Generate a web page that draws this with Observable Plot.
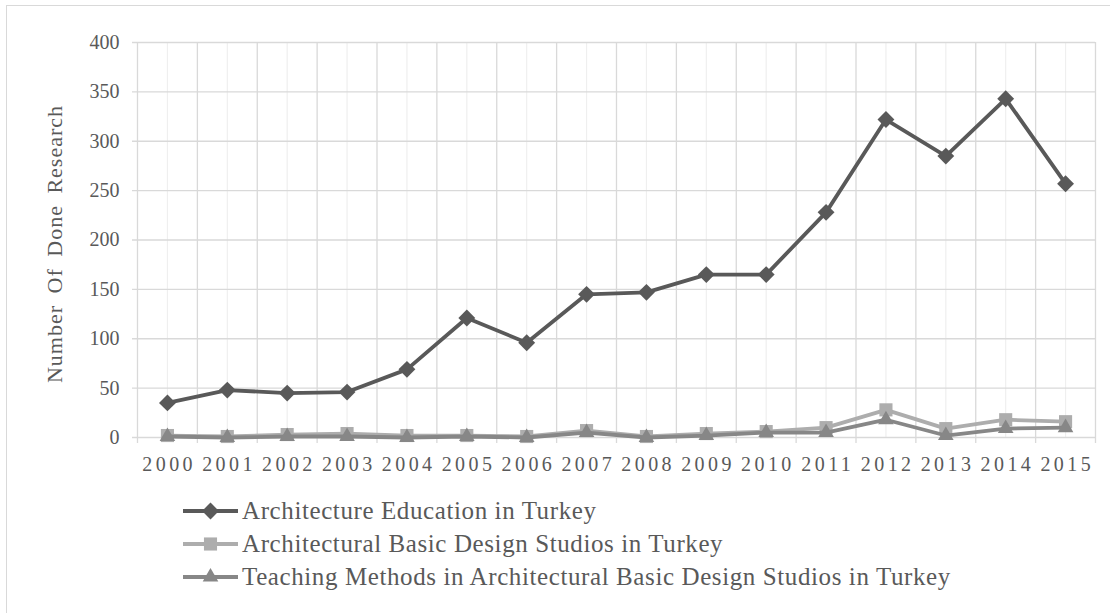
<!DOCTYPE html>
<html>
<head>
<meta charset="utf-8">
<script src="https://cdn.jsdelivr.net/npm/d3@7"></script>
<script src="https://cdn.jsdelivr.net/npm/@observablehq/plot@0.6"></script>
<style>
  html, body { margin: 0; padding: 0; background: #fff; }
  body { width: 1110px; height: 613px; position: relative; overflow: hidden; font-family: "Liberation Serif", "Times New Roman", serif; }
  #frame { position: absolute; left: 6px; top: 5px; width: 1120px; height: 640px; border: 1.5px solid #d9d9d9; box-sizing: border-box; }
  #chart { position: absolute; left: 0; top: 0; }
  #chart svg { font-family: "Liberation Serif", "Times New Roman", serif; }
  #chart g[aria-label="x-axis tick label"] text { letter-spacing: 3.4px; }
  .ylab text { letter-spacing: 1px; word-spacing: 5px; }
  #legend { position: absolute; left: 183px; top: 494px; color: #595959; font-size: 25px; letter-spacing: 0.6px; }
  .row { display: flex; align-items: center; height: 33px; }
  .row svg { width: 56px; height: 22px; margin-right: 3px; flex: none; }
  .row span { white-space: nowrap; }
</style>
</head>
<body>
<div id="frame"></div>
<div id="chart"></div>
<div id="legend"></div>
<script>
const years = [2000,2001,2002,2003,2004,2005,2006,2007,2008,2009,2010,2011,2012,2013,2014,2015];
const seriesNames = [
  "Architecture Education in Turkey",
  "Architectural Basic Design Studios in Turkey",
  "Teaching Methods in Architectural Basic Design Studios in Turkey"
];
const archEducation = [35,48,45,46,69,121,96,145,147,165,165,228,322,285,343,257];
const basicDesignStudios = [2,1,3,4,2,2,1,7,1,4,6,10,28,9,18,16];
const teachingMethods = [1,0,1,1,0,1,0,5,0,2,5,5,18,2,9,10];
const yTicks = [0,50,100,150,200,250,300,350,400];
const yLabel = "Number Of Done Research";

const seriesValues = [archEducation, basicDesignStudios, teachingMethods];
const colors = ["#595959", "#ADADAD", "#878787"];
const symbols = ["diamond2", "square", "triangle"];
const radii = [7.6, 7.4, 5.8];
const d3Symbols = [d3.symbolDiamond2, d3.symbolSquare, d3.symbolTriangle];

const data = seriesNames.flatMap((s, i) => years.map((yr, j) => ({series: s, year: yr, value: seriesValues[i][j]})));
const edges = years.map(y => y - 0.5).concat([years[years.length - 1] + 0.5]);

const marks = [
  Plot.ruleX(years, {stroke: "#EFEFEF", strokeWidth: 1.2}),
  Plot.ruleY(yTicks, {stroke: "#D9D9D9", strokeWidth: 1.3, insetLeft: -5}),
  Plot.ruleX(edges, {stroke: "#D9D9D9", strokeWidth: 1.3, insetBottom: -6}),
  Plot.axisY(yTicks, {tickSize: 0, tickPadding: 18, fontSize: 20, color: "#595959", label: null}),
  Plot.axisX(years, {tickSize: 0, tickPadding: 19, fontSize: 20, color: "#595959", label: null, tickFormat: d => String(d), dx: 1.7}),
  Plot.text([yLabel], {frameAnchor: "left", textAnchor: "middle", rotate: -90, dx: -83, dy: 4, fontSize: 22, fill: "#595959", className: "ylab"})
];
seriesNames.forEach((s, i) => {
  const sub = data.filter(d => d.series === s);
  marks.push(Plot.line(sub, {x: "year", y: "value", stroke: colors[i], strokeWidth: 3.8, strokeLinejoin: "round"}));
  marks.push(Plot.dot(sub, {x: "year", y: "value", symbol: () => symbols[i], r: radii[i], fill: colors[i], stroke: "none"}));
});

const chart = Plot.plot({
  width: 1110,
  height: 490,
  marginLeft: 137,
  marginRight: 15,
  marginTop: 42,
  marginBottom: 53,
  style: {background: "transparent", color: "#595959"},
  x: {type: "linear", domain: [1999.5, 2015.5], axis: null},
  y: {domain: [0, 400], axis: null},
  symbol: {type: "identity"},
  marks
});
document.getElementById("chart").appendChild(chart);

const legend = d3.select("#legend");
seriesNames.forEach((s, i) => {
  const row = legend.append("div").attr("class", "row");
  const sv = row.append("svg").attr("viewBox", "0 0 56 22");
  sv.append("line").attr("x1", 0).attr("x2", 55).attr("y1", 11).attr("y2", 11)
    .attr("stroke", colors[i]).attr("stroke-width", 3.8);
  sv.append("path").attr("transform", "translate(27.5,11)")
    .attr("d", d3.symbol(d3Symbols[i], Math.PI * radii[i] * radii[i])())
    .attr("fill", colors[i]);
  row.append("span").text(s);
});
</script>
</body>
</html>
